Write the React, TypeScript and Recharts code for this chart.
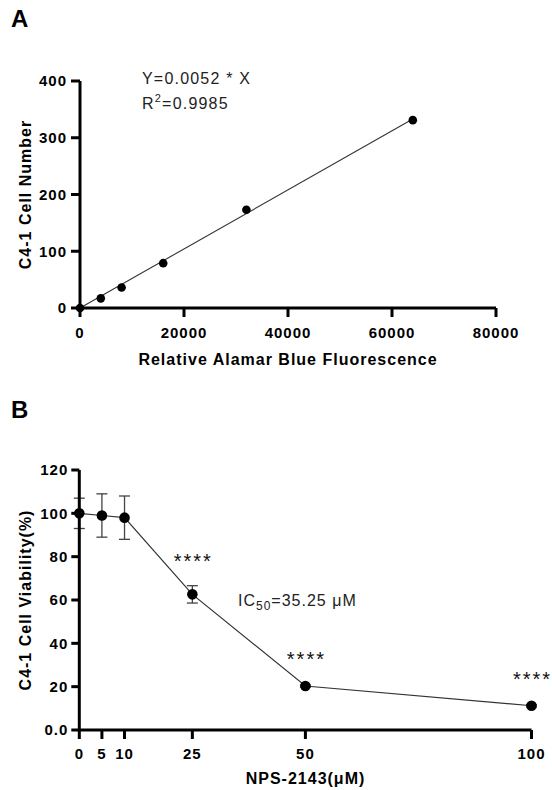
import { ComposedChart, Line, Scatter, XAxis, YAxis, ErrorBar, LabelList } from 'recharts'

// panel A: standard curve
const fluorescence = [0, 4000, 8000, 16000, 32000, 64000]
const cellNumber = [0, 17, 36, 79, 173, 331]
const fitX = [0, 64000]
const fitY = [0, 333]
const xTicksA = [0, 20000, 40000, 60000, 80000]
const yTicksA = [0, 100, 200, 300, 400]

// panel B: dose response
const dose = [0, 5, 10, 25, 50, 100]
const viability = [100, 99, 98, 62.6, 20.3, 11.2]
const viabilitySd = [7, 10, 10, 4, 0.5, 0.5]
const significance = ['', '', '', '****', '****', '****']
const xTicksB = [0, 5, 10, 25, 50, 100]
const yTicksB = [0, 20, 40, 60, 80, 100, 120]

const FONT = '"Liberation Sans", Arial, Helvetica, sans-serif'

const pointsA = fluorescence.map((x, i) => ({ x, y: cellNumber[i] }))
const fitA = fitX.map((x, i) => ({ x, y: fitY[i] }))
const rowsB = dose.map((d, i) => ({ dose: d, v: viability[i], err: viabilitySd[i], sig: significance[i] }))

const tickStyle = { fill: '#000', fontSize: 15, fontWeight: 700, fontFamily: FONT, letterSpacing: 1 }
const axisStroke = { stroke: '#000', strokeWidth: 3 }

// plot B is 260px tall for 120 units
const PX_B = 260 / 120

const dotA = (props: any) => <circle cx={props.cx} cy={props.cy} r={4.3} fill="#000" />

const renderStars = (props: any) => {
  const { x, y, value, index } = props
  if (!value) return null
  const lift = 29 + Math.max(viabilitySd[index], 1) * PX_B
  return (
    <text x={x + 1} y={y - lift + 11.5} textAnchor="middle" fontSize={20} fontFamily={FONT} letterSpacing={2} fill="#111">
      {value}
    </text>
  )
}

export default function App() {
  return (
    <div style={{ position: 'absolute', left: 0, top: 0, width: 552, height: 790, background: '#fff', fontFamily: FONT }}>
      <div style={{ position: 'absolute', left: 0, top: 0 }}>
        <ComposedChart width={552} height={390} margin={{ top: 81, right: 56, bottom: 52, left: 20 }}>
          <XAxis
            dataKey="x"
            type="number"
            domain={[0, 80000]}
            ticks={xTicksA}
            interval={0}
            tick={tickStyle}
            axisLine={axisStroke}
            tickLine={axisStroke}
            tickSize={9}
            tickMargin={10}
            height={30}
          />
          <YAxis
            type="number"
            domain={[0, 400]}
            ticks={yTicksA}
            interval={0}
            tick={tickStyle}
            axisLine={axisStroke}
            tickLine={axisStroke}
            tickSize={9}
            tickMargin={4}
            width={60}
          />
          <Line data={fitA} dataKey="y" type="linear" stroke="#333" strokeWidth={1.1} dot={false} isAnimationActive={false} />
          <Scatter data={pointsA} dataKey="y" fill="#000" shape={dotA} isAnimationActive={false} />
        </ComposedChart>
      </div>

      <div style={{ position: 'absolute', left: 0, top: 390 }}>
        <ComposedChart width={552} height={400} data={rowsB} margin={{ top: 80, right: 20.5, bottom: 30, left: 19.3 }}>
          <XAxis
            dataKey="dose"
            type="number"
            domain={[0, 100]}
            ticks={xTicksB}
            interval={0}
            tick={tickStyle}
            axisLine={axisStroke}
            tickLine={axisStroke}
            tickSize={9}
            tickMargin={9}
            height={30}
          />
          <YAxis
            type="number"
            domain={[0, 120]}
            ticks={yTicksB}
            interval={0}
            tick={tickStyle}
            tickFormatter={(v: number) => (v === 0 ? '0.0' : String(v))}
            axisLine={axisStroke}
            tickLine={axisStroke}
            tickSize={8}
            tickMargin={3}
            width={60}
          />
          <Line
            dataKey="v"
            type="linear"
            stroke="#333"
            strokeWidth={1.2}
            dot={{ r: 5.3, fill: '#000', stroke: '#000', strokeWidth: 0 }}
            activeDot={false}
            isAnimationActive={false}
          >
            <ErrorBar dataKey="err" width={5.5} stroke="#444" strokeWidth={1.3} direction="y" />
            <LabelList dataKey="sig" content={renderStars} />
          </Line>
        </ComposedChart>
      </div>

      <svg width={552} height={790} style={{ position: 'absolute', left: 0, top: 0, pointerEvents: 'none' }}>
        <g fontFamily={FONT} fill="#000">
          <text x={11} y={27} fontSize={24} fontWeight={700}>A</text>
          <text x={11} y={418} fontSize={24} fontWeight={700}>B</text>

          <text x={142} y={84} fontSize={16} letterSpacing={1.2} fill="#222">Y=0.0052 * X</text>
          <text x={142} y={109} fontSize={16} letterSpacing={1.2} fill="#222">
            R<tspan dy={-7} fontSize={11}>2</tspan>
            <tspan dy={7}>=0.9985</tspan>
          </text>

          <text transform="translate(31,194.5) rotate(-90)" textAnchor="middle" fontSize={16} fontWeight={700} letterSpacing={1}>
            C4-1 Cell Number
          </text>
          <text x={288} y={365} textAnchor="middle" fontSize={16} fontWeight={700} letterSpacing={1}>
            Relative Alamar Blue Fluorescence
          </text>

          <text transform="translate(31,600) rotate(-90)" textAnchor="middle" fontSize={16} fontWeight={700} letterSpacing={1}>
            C4-1 Cell Viability(%)
          </text>
          <text x={305.5} y={784} textAnchor="middle" fontSize={16} fontWeight={700} letterSpacing={1}>
            NPS-2143(μM)
          </text>

          <text x={238} y={606} fontSize={16} letterSpacing={1} fill="#222">
            IC<tspan dy={3.5} fontSize={12}>50</tspan>
            <tspan dy={-3.5}>=35.25 μM</tspan>
          </text>
        </g>
      </svg>
    </div>
  )
}
